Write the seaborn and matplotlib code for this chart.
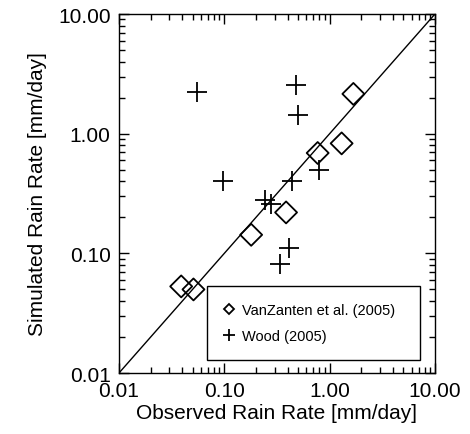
import matplotlib
matplotlib.use("Agg")
import matplotlib.pyplot as plt
import seaborn as sns
import numpy as np
import pandas as pd
from matplotlib.lines import Line2D
from matplotlib.ticker import FixedLocator, FixedFormatter, LogLocator, NullFormatter

# Data
vz_obs = [0.039, 0.051, 0.18, 0.386, 0.77, 1.30, 1.68]
vz_sim = [0.053, 0.050, 0.143, 0.22, 0.69, 0.83, 2.15]
wood_obs = [0.0547, 0.48, 0.497, 0.79, 0.0966, 0.436, 0.244, 0.277, 0.414, 0.338]
wood_sim = [2.24, 2.55, 1.43, 0.50, 0.405, 0.405, 0.281, 0.259, 0.112, 0.0815]
tick_vals = [0.01, 0.1, 1.0, 10.0]
tick_labels = ["0.01", "0.10", "1.00", "10.00"]
one_to_one = [0.01, 10.0]

sns.set_style("ticks")
plt.rcParams['font.family'] = ['Liberation Sans', 'DejaVu Sans']
plt.rcParams['text.color'] = 'black'
plt.rcParams['axes.labelcolor'] = 'black'
plt.rcParams['xtick.color'] = 'black'
plt.rcParams['ytick.color'] = 'black'

fig = plt.figure(figsize=(4.70, 4.35), dpi=100)
ax = fig.add_axes([0.253, 0.140, 0.6725, 0.8255])

df_vz = pd.DataFrame({"obs": vz_obs, "sim": vz_sim})
df_w = pd.DataFrame({"obs": wood_obs, "sim": wood_sim})

ax.plot(one_to_one, one_to_one, color="black", lw=1.0, zorder=1)

sns.scatterplot(data=df_vz, x="obs", y="sim", ax=ax, marker="D", s=125,
                facecolor="none", edgecolor="black", linewidth=1.3, zorder=3)
sns.scatterplot(data=df_w, x="obs", y="sim", ax=ax, marker="+", s=190,
                color="black", linewidth=1.3, zorder=3)

ax.set_xscale("log")
ax.set_yscale("log")
ax.set_xlim(0.01, 10)
ax.set_ylim(0.01, 10)

for axis in (ax.xaxis, ax.yaxis):
    axis.set_major_locator(FixedLocator(tick_vals))
    axis.set_major_formatter(FixedFormatter(tick_labels))
    axis.set_minor_locator(LogLocator(base=10, subs=np.arange(2, 10)))
    axis.set_minor_formatter(NullFormatter())

ax.tick_params(which="both", direction="in", top=True, right=True, color="black",
               labelcolor="black", width=1.0)
ax.tick_params(which="major", length=7, labelsize=15, pad=6)
ax.tick_params(which="minor", length=4)
for sp in ax.spines.values():
    sp.set_linewidth(1.0)
    sp.set_color("black")

ax.set_xlabel("Observed Rain Rate [mm/day]", fontsize=15, labelpad=2, color="black")
ax.set_ylabel("Simulated Rain Rate [mm/day]", fontsize=15, labelpad=8, color="black")

handles = [
    Line2D([], [], marker="D", ls="none", markersize=5, markerfacecolor="none",
           markeredgecolor="black", markeredgewidth=1.3),
    Line2D([], [], marker="+", ls="none", markersize=8, color="black", markeredgewidth=1.3),
]
leg = ax.legend(handles, ["VanZanten et al. (2005)", "Wood (2005)"],
                loc="lower left", bbox_to_anchor=(0.278, 0.036, 0.675, 0.212),
                mode="expand", fontsize=10.5, frameon=True, fancybox=False,
                edgecolor="black", framealpha=1, borderpad=1.2, labelspacing=0.8,
                handlelength=0.6, handletextpad=0.6, borderaxespad=0)
leg.get_frame().set_linewidth(1.0)
for t in leg.get_texts():
    t.set_color("black")

fig.savefig("out.png", dpi=100)
